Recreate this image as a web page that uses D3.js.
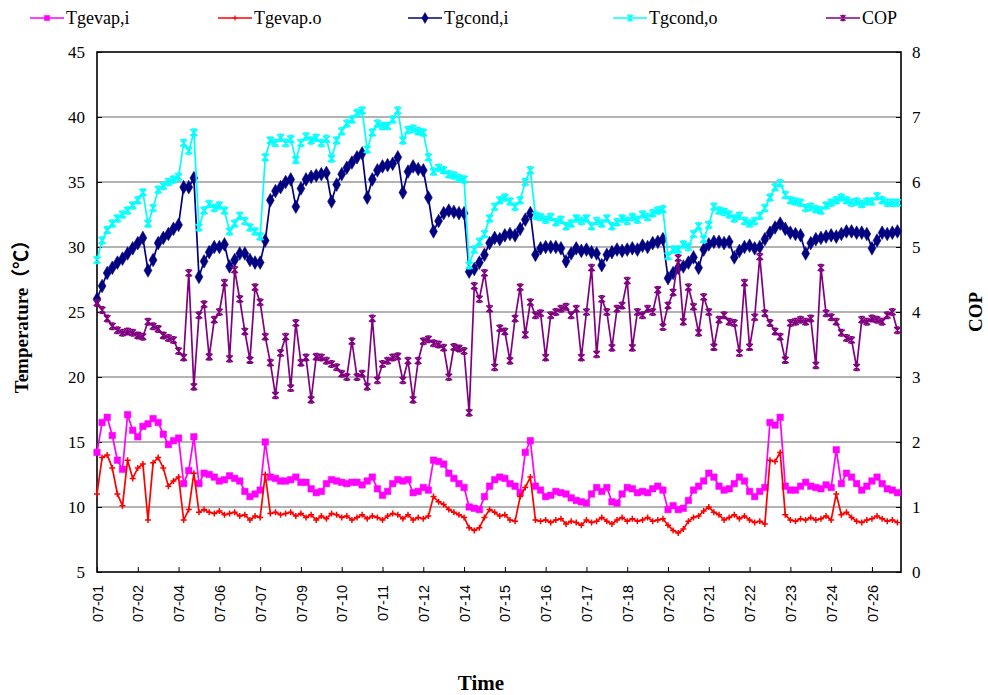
<!DOCTYPE html>
<html>
<head>
<meta charset="utf-8">
<script src="https://cdn.jsdelivr.net/npm/d3@7/dist/d3.min.js"></script>
<style>
  body { margin: 0; background: #fff; }
</style>
</head>
<body>
<div id="chart"></div>
<script>
// tick labels, one every 8 samples
var tickLabels = ["07-01", "07-02", "07-04", "07-06", "07-07", "07-09", "07-10", "07-11", "07-12", "07-14",
  "07-15", "07-16", "07-17", "07-18", "07-20", "07-21", "07-22", "07-23", "07-24", "07-26"];
var tickStep = 8;

var tgevapI = [14.2, 16.5, 16.9, 15.5, 13.6, 12.9, 17.1, 15.9, 15.4, 16.2,
  16.4, 16.8, 16.5, 15.6, 14.8, 15.1, 15.3, 11.8, 12.8, 15.4,
  11.8, 12.6, 12.5, 12.3, 12.0, 12.1, 12.4, 12.2, 12.0, 11.2,
  10.8, 11.0, 11.3, 15.0, 12.3, 12.2, 12.0, 12.0, 12.1, 12.3,
  11.9, 11.9, 11.4, 11.1, 11.2, 11.8, 12.1, 12.0, 11.9, 11.8,
  11.9, 11.9, 11.7, 12.0, 12.3, 11.4, 10.9, 11.2, 11.8, 12.1,
  12.0, 12.1, 11.1, 11.2, 11.5, 11.3, 13.6, 13.5, 13.3, 12.6,
  12.2, 11.8, 11.5, 10.0, 9.9, 9.8, 10.8, 11.6, 12.1, 12.3,
  12.2, 11.8, 11.6, 11.1, 14.2, 15.1, 11.6, 11.3, 10.8, 10.9,
  11.2, 11.1, 11.0, 10.7, 10.5, 10.4, 10.3, 11.0, 11.5, 11.2,
  11.5, 10.4, 10.3, 11.0, 11.5, 11.4, 11.1, 11.2, 11.1, 11.4,
  11.6, 11.3, 9.8, 10.1, 9.8, 9.9, 10.5, 11.3, 11.6, 12.0,
  12.6, 12.3, 11.6, 11.3, 11.4, 11.8, 12.3, 12.0, 11.2, 10.8,
  11.2, 11.5, 16.5, 16.3, 16.9, 11.6, 11.3, 11.3, 11.6, 11.9,
  11.6, 11.5, 11.4, 11.7, 11.5, 14.4, 11.8, 12.6, 12.3, 11.8,
  11.3, 11.6, 12.0, 12.3, 11.8, 11.4, 11.3, 11.1];

var tgevapO = [11.0, 13.8, 14.0, 13.0, 11.0, 10.1, 13.6, 12.2, 13.0, 13.3,
  9.0, 13.4, 13.8, 13.0, 11.6, 12.0, 12.3, 9.0, 9.8, 12.6,
  9.6, 9.8, 9.6, 9.5, 9.7, 9.4, 9.5, 9.6, 9.3, 9.4,
  9.0, 9.3, 9.2, 12.5, 9.5, 9.6, 9.4, 9.5, 9.6, 9.3,
  9.5, 9.2, 9.4, 9.0, 9.3, 9.1, 9.5, 9.4, 9.2, 9.3,
  9.0, 9.2, 9.4, 9.1, 9.3, 9.2, 9.0, 9.3, 9.5, 9.4,
  9.1, 9.4, 9.0, 9.2, 9.1, 9.3, 10.8, 10.4, 10.2, 9.8,
  9.6, 9.4, 9.2, 8.4, 8.2, 8.4, 9.2, 9.8, 9.6, 9.3,
  9.4, 9.0, 8.9, 10.8, 11.5, 12.3, 9.0, 8.9, 9.0, 8.8,
  9.0, 9.1, 8.7, 8.9, 8.8, 8.6, 9.0, 8.8, 8.9, 9.2,
  8.9, 8.7, 9.0, 9.2, 8.9, 9.1, 8.9, 9.0, 9.2, 8.9,
  9.0, 9.1, 8.6, 8.2, 8.0, 8.3, 8.9, 9.2, 9.3, 9.7,
  10.0, 9.6, 9.4, 9.0, 9.2, 9.4, 9.1, 9.3, 9.0, 8.8,
  8.9, 8.7, 13.6, 13.5, 14.2, 9.4, 9.0, 8.9, 9.1, 9.0,
  9.2, 9.0, 9.1, 9.3, 9.0, 11.0, 9.4, 9.6, 9.2, 8.9,
  8.8, 9.0, 9.1, 9.3, 9.1, 8.9, 9.0, 8.8];

var tgcondI = [26.0, 27.0, 28.0, 28.4, 28.8, 29.1, 29.5, 29.9, 30.3, 30.7,
  28.2, 29.0, 30.3, 30.7, 31.0, 31.4, 31.7, 34.6, 34.6, 35.3,
  27.7, 28.9, 29.6, 30.0, 30.0, 30.2, 28.5, 29.0, 29.5, 29.5,
  29.0, 28.8, 28.8, 30.5, 33.6, 34.3, 34.6, 35.0, 35.2, 33.1,
  34.5, 35.2, 35.4, 35.5, 35.6, 35.7, 33.5, 34.8, 35.6, 36.1,
  36.5, 36.9, 37.2, 33.8, 35.2, 35.9, 36.2, 36.3, 36.4, 36.9,
  34.2, 35.8, 36.2, 36.0, 35.9, 33.8, 31.2, 32.0, 32.6, 32.8,
  32.7, 32.6, 32.6, 28.1, 28.3, 28.8, 29.4, 30.3, 30.7, 30.6,
  30.9, 31.0, 30.9, 31.4, 32.1, 32.6, 29.4, 29.9, 30.0, 30.0,
  30.0, 29.9, 28.9, 29.5, 29.9, 29.7, 29.8, 29.6, 29.5, 28.6,
  29.4, 29.6, 29.8, 29.7, 29.8, 29.9, 29.8, 30.1, 30.0, 30.3,
  30.4, 30.6, 27.6, 28.0, 28.4, 28.5, 28.8, 29.2, 28.4, 29.8,
  30.2, 30.4, 30.4, 30.3, 30.4, 29.2, 29.7, 30.0, 30.1, 29.9,
  30.0, 30.6, 31.1, 31.5, 31.8, 31.4, 31.1, 31.0, 30.9, 29.5,
  30.3, 30.6, 30.7, 30.8, 30.9, 30.8, 31.0, 31.2, 31.2, 31.1,
  31.1, 31.0, 29.9, 30.5, 31.1, 31.0, 31.1, 31.2];

var tgcondO = [29.0, 30.5, 31.3, 31.8, 32.2, 32.5, 32.8, 33.2, 33.6, 34.2,
  31.8, 33.0, 34.4, 34.7, 35.0, 35.2, 35.4, 38.0, 37.4, 38.8,
  31.5, 32.8, 33.3, 33.0, 33.2, 32.8, 31.2, 31.8, 32.4, 32.0,
  31.5, 31.2, 30.8, 36.9, 38.2, 38.0, 38.4, 38.0, 38.3, 36.7,
  38.0, 38.5, 38.2, 38.4, 38.0, 38.3, 36.8, 38.2, 38.9, 39.5,
  39.8, 40.3, 40.5, 37.5, 38.8, 39.5, 39.3, 39.3, 39.8, 40.5,
  38.2, 39.0, 39.1, 38.9, 38.8, 36.9, 35.8, 36.1, 35.9, 35.6,
  35.5, 35.3, 35.2, 28.6, 29.8, 30.4, 31.0, 32.2, 33.1, 33.6,
  33.8, 33.5, 33.1, 33.6, 35.0, 35.9, 32.4, 32.3, 32.1, 32.3,
  31.9, 32.1, 31.6, 31.8, 32.2, 32.0, 32.2, 31.6, 32.0, 31.8,
  32.2, 31.6, 31.9, 32.2, 32.0, 32.3, 32.1, 32.5, 32.3, 32.6,
  32.8, 32.9, 29.3, 29.8, 29.8, 30.2, 30.0, 31.0, 31.6, 30.6,
  31.7, 33.1, 32.8, 32.7, 32.5, 32.2, 32.4, 32.0, 31.8, 32.0,
  32.4, 33.0, 33.8, 34.6, 34.9, 34.0, 33.6, 33.5, 33.4, 33.0,
  33.1, 32.9, 32.8, 33.2, 33.4, 33.6, 33.8, 33.6, 33.4, 33.5,
  33.3, 33.5, 33.5, 33.9, 33.6, 33.4, 33.4, 33.4];

var cop = [4.14, 4.03, 3.90, 3.78, 3.72, 3.68, 3.70, 3.68, 3.64, 3.62,
  3.85, 3.78, 3.74, 3.64, 3.60, 3.57, 3.40, 3.30, 4.60, 2.85,
  3.95, 4.12, 3.31, 3.88, 4.00, 4.45, 3.28, 4.65, 4.20, 3.70,
  3.26, 4.38, 4.15, 3.62, 3.22, 2.72, 3.37, 3.62, 2.83, 3.83,
  3.22, 3.30, 2.65, 3.31, 3.30, 3.25, 3.20, 3.15, 3.05, 3.00,
  3.55, 3.00, 3.05, 2.85, 3.90, 2.95, 3.20, 3.25, 3.30, 3.32,
  2.95, 3.25, 2.65, 3.25, 3.55, 3.58, 3.52, 3.50, 3.45, 3.00,
  3.46, 3.44, 3.40, 2.45, 4.40, 4.20, 4.60, 4.05, 3.15, 3.75,
  3.70, 3.25, 3.90, 4.38, 3.65, 4.15, 3.95, 3.98, 3.30, 3.95,
  4.00, 4.05, 4.08, 3.95, 4.05, 3.30, 4.00, 4.68, 3.35, 4.20,
  4.00, 3.45, 4.05, 4.10, 4.48, 3.45, 4.00, 3.95, 4.05, 4.00,
  4.34, 3.77, 4.10, 4.30, 4.83, 3.85, 4.38, 4.08, 3.68, 4.23,
  4.00, 3.46, 3.88, 3.95, 3.85, 3.83, 3.37, 4.45, 3.46, 3.92,
  4.85, 3.98, 3.83, 3.70, 3.62, 3.26, 3.83, 3.85, 3.88, 3.85,
  3.90, 3.18, 4.68, 3.98, 3.92, 3.85, 3.68, 3.60, 3.57, 3.15,
  3.88, 3.85, 3.90, 3.88, 3.85, 3.95, 4.00, 3.72];

var width = 988,
    height = 695;
var margin = {top: 52, left: 97, right: 87, bottom: 123};
var w = width - margin.left - margin.right;
var h = height - margin.top - margin.bottom;
var serif = "'Liberation Serif', 'Times New Roman', serif";

var svg = d3.select("#chart").append("svg")
    .attr("width", width)
    .attr("height", height);

var x = d3.scaleLinear().domain([0, 157.7]).range([margin.left, margin.left + w]);
var yT = d3.scaleLinear().domain([5, 45]).range([margin.top + h, margin.top]);
var yC = d3.scaleLinear().domain([0, 8]).range([margin.top + h, margin.top]);

// grid lines
svg.append("g").selectAll("line")
    .data(d3.range(10, 45, 5))
  .enter().append("line")
    .attr("x1", margin.left)
    .attr("x2", margin.left + w)
    .attr("y1", function (d) { return yT(d); })
    .attr("y2", function (d) { return yT(d); })
    .attr("stroke", "#9a9a9a")
    .attr("stroke-width", 1.6);

// left axis
var leftAxis = svg.append("g")
    .attr("transform", "translate(" + margin.left + ",0)")
    .call(d3.axisLeft(yT).tickValues(d3.range(5, 46, 5)).tickSize(-5).tickPadding(12));
leftAxis.select(".domain").remove();
leftAxis.selectAll("text").attr("font-family", serif).attr("font-size", "17px").attr("fill", "#000");

// right axis
var rightAxis = svg.append("g")
    .attr("transform", "translate(" + (margin.left + w) + ",0)")
    .call(d3.axisRight(yC).tickValues(d3.range(0, 9)).tickSize(-5).tickPadding(11));
rightAxis.select(".domain").remove();
rightAxis.selectAll("text").attr("font-family", serif).attr("font-size", "17px").attr("fill", "#000");

// bottom axis
var bottomAxis = svg.append("g")
    .attr("transform", "translate(0," + (margin.top + h) + ")")
    .call(d3.axisBottom(x)
      .tickValues(d3.range(0, tickLabels.length).map(function (i) { return i * tickStep; }))
      .tickFormat(function (d) { return tickLabels[d / tickStep]; })
      .tickSize(-5));
bottomAxis.select(".domain").remove();
bottomAxis.selectAll("text")
    .attr("font-family", "'Liberation Sans', Arial, sans-serif")
    .attr("font-size", "14.5px")
    .attr("fill", "#000")
    .attr("y", 0)
    .attr("x", -13)
    .attr("dy", "0.35em")
    .attr("transform", "rotate(-90)")
    .style("text-anchor", "end");

// frame
svg.append("rect")
    .attr("x", margin.left)
    .attr("y", margin.top)
    .attr("width", w)
    .attr("height", h)
    .attr("fill", "none")
    .attr("stroke", "#000")
    .attr("stroke-width", 1.6);

// marker shapes
var markers = {
  square: function (s) { return d3.symbol().type(d3.symbolSquare).size(s * s)(); },
  diamond: function (s) { return d3.symbol().type(d3.symbolDiamond).size(s * s * 0.75)(); },
  plus: function (s) { var r = s / 2; return "M" + (-r) + ",0H" + r + "M0," + (-r) + "V" + r; },
  star: function (s) {
    var r = s / 2;
    return "M" + (-r) + "," + (-r) + "L" + r + "," + r + "M" + (-r) + "," + r + "L" + r + "," + (-r) +
      "M0," + (-r) + "V" + r + "M" + (-r * 0.6) + "," + (-r) + "H" + (r * 0.6) + "M" + (-r * 0.6) + "," + r + "H" + (r * 0.6);
  }
};

var series = [
  {name: "Tgevap,i", values: tgevapI, y: yT, color: "#ff00ff", marker: "square", size: 6.5, filled: true},
  {name: "Tgevap.o", values: tgevapO, y: yT, color: "#ff0000", marker: "plus", size: 6, filled: false},
  {name: "Tgcond,i", values: tgcondI, y: yT, color: "#000080", marker: "diamond", size: 8.5, filled: true},
  {name: "Tgcond,o", values: tgcondO, y: yT, color: "#00ffff", marker: "star", size: 7, filled: false},
  {name: "COP", values: cop, y: yC, color: "#800080", marker: "star", size: 6.5, filled: false}
];

series.forEach(function (s) {
  var line = d3.line()
      .x(function (d, i) { return x(i); })
      .y(function (d) { return s.y(d); });
  var g = svg.append("g");
  g.append("path")
      .attr("d", line(s.values))
      .attr("fill", "none")
      .attr("stroke", s.color)
      .attr("stroke-width", 1.7);
  g.selectAll(".mk")
      .data(s.values)
    .enter().append("path")
      .attr("class", "mk")
      .attr("transform", function (d, i) { return "translate(" + x(i) + "," + s.y(d) + ")"; })
      .attr("d", markers[s.marker](s.size))
      .attr("fill", s.filled ? s.color : "none")
      .attr("stroke", s.color)
      .attr("stroke-width", s.filled ? 0.5 : 1.5);
});

// legend
var legendX = [30, 218, 408, 613, 826];
var legend = svg.append("g").selectAll(".legend")
    .data(series)
  .enter().append("g")
    .attr("class", "legend")
    .attr("transform", function (d, i) { return "translate(" + legendX[i] + ",18)"; });
legend.append("line")
    .attr("x1", 0)
    .attr("x2", 34)
    .attr("stroke", function (d) { return d.color; })
    .attr("stroke-width", 1.7);
legend.append("path")
    .attr("transform", "translate(17,0)")
    .attr("d", function (d) { return markers[d.marker](d.size * 0.8); })
    .attr("fill", function (d) { return d.filled ? d.color : "none"; })
    .attr("stroke", function (d) { return d.color; })
    .attr("stroke-width", function (d) { return d.filled ? 0.5 : 1.2; });
legend.append("text")
    .attr("x", 36)
    .attr("y", 6)
    .attr("font-family", serif)
    .attr("font-size", "18px")
    .attr("fill", "#000")
    .text(function (d) { return d.name; });

// axis titles
svg.append("text")
    .attr("transform", "translate(28," + (margin.top + h / 2) + ") rotate(-90)")
    .attr("text-anchor", "middle")
    .attr("font-family", serif + ", 'Noto Sans CJK SC'")
    .attr("font-weight", "bold")
    .attr("font-size", "19px")
    .text("Temperature（℃）");

svg.append("text")
    .attr("transform", "translate(982," + (margin.top + h / 2) + ") rotate(-90)")
    .attr("text-anchor", "middle")
    .attr("font-family", serif)
    .attr("font-weight", "bold")
    .attr("font-size", "19px")
    .text("COP");

svg.append("text")
    .attr("x", margin.left + w / 2 - 18)
    .attr("y", 690)
    .attr("text-anchor", "middle")
    .attr("font-family", serif)
    .attr("font-weight", "bold")
    .attr("font-size", "21px")
    .text("Time");
</script>
</body>
</html>
